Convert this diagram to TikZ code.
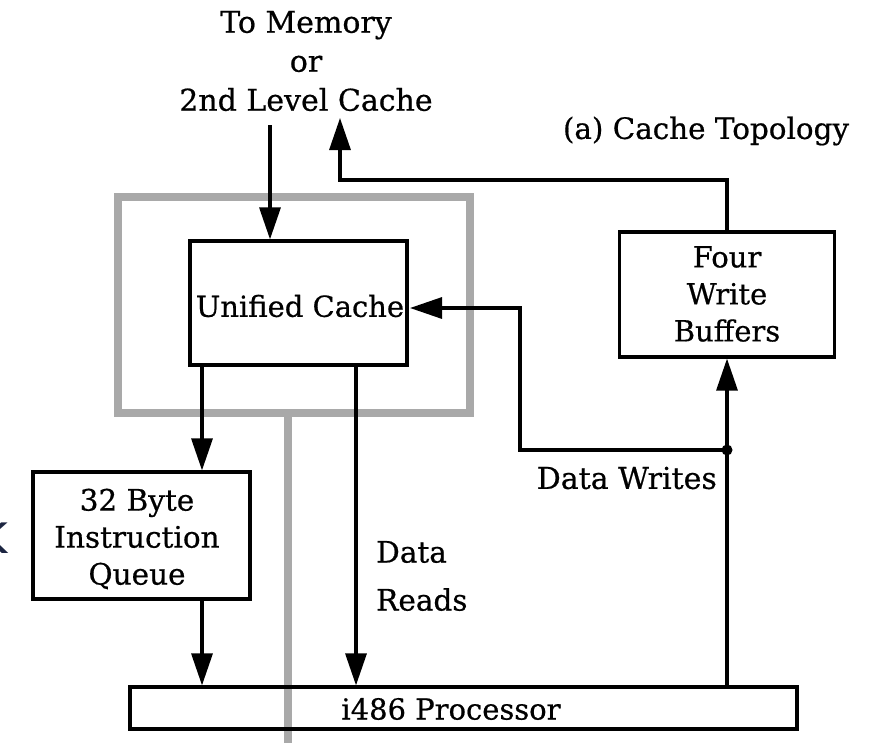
\documentclass[tikz,border=0pt]{standalone}
\usepackage{fontspec}
\setmainfont{DejaVu Serif}[FakeBold=0.6]
\newfontfamily\kfont{DejaVu Sans}
\usetikzlibrary{arrows.meta}
\definecolor{shell}{HTML}{A9A9A9}
\definecolor{navy}{HTML}{1C2541}
\tikzset{
  box/.style={draw=black, line width=3.2pt, rectangle, inner sep=0pt, align=center},
  lbl/.style={inner sep=0pt, align=center, font=\fontsize{29}{37}\selectfont},
  wire/.style={draw=black, line width=3.2pt},
  arr/.style={wire, -{Triangle[length=32pt,width=21pt]}},
  shellline/.style={draw=shell, line width=8pt}
}
\begin{document}
\begin{tikzpicture}[x=1pt,y=-1pt]
\useasboundingbox (0,0) rectangle (869,742);
% grey outline and stem
\draw[shellline] (118,197) rectangle (470,413);
\coordinate (stemtop) at (288,413);
\coordinate (stembot) at (288,750);
\draw[shellline] (stemtop) -- (stembot);

% boxes
\node[box, minimum width=217pt, minimum height=124pt] (uc) at (298.5,303) {};
\node[lbl] (uct) at (300,306) {Unified Cache};
\node[box, minimum width=215pt, minimum height=125pt] (wb) at (727,294.5) {};
\node[lbl] (wbt) at (727,294) {Four\\Write\\Buffers};
\node[box, minimum width=217pt, minimum height=127pt] (iq) at (141.5,535.5) {};
\node[lbl, font=\fontsize{29.5}{37}\selectfont] (iqt) at (137,539) {32 Byte\\Instruction\\Queue};
\node[box, minimum width=667pt, minimum height=42pt] (proc) at (463.5,708) {};
\node[lbl] (proct) at (451,709) {i486 Processor};

% labels
\node[lbl, font=\fontsize{30}{39}\selectfont] (mem) at (306,61) {To Memory\\or\\2nd Level Cache};
\node[lbl, font=\fontsize{29.4}{37}\selectfont] (topo) at (706,131) {(a) Cache Topology};
\node[lbl, anchor=east, font=\fontsize{30}{37}\selectfont] (dwt) at (717,478) {Data Writes};
\node[lbl, anchor=west, font=\fontsize{29.5}{48}\selectfont, align=left] (drt) at (376,576) {Data\\Reads};
\node[inner sep=0pt, anchor=base east, text=navy, font=\kfont\fontsize{56}{60}\selectfont] (kk) at (9,553) {k};

% connectors
\coordinate (memin) at (270,125);
\draw[arr] (memin) -- (memin |- uc.north);
\coordinate (memout) at (340,118);
\coordinate (bendA) at (340,180);
\draw[arr] (wb.north) |- (bendA) -- (memout);
\coordinate (dw) at (727,450);
\draw[arr] (dw |- proc.north) -- (wb.south);
\coordinate (bendB) at (520,308);
\coordinate (ucin) at (410,308);
\draw[arr] (dw) -| (bendB) -- (ucin);
\fill (dw) circle (5.5pt);
\coordinate (xq) at (202,0);
\draw[arr] (uc.south -| xq) -- (iq.north -| xq);
\draw[arr] (iq.south -| xq) -- (proc.north -| xq);
\coordinate (xr) at (356,0);
\draw[arr] (uc.south -| xr) -- (proc.north -| xr);
\end{tikzpicture}
\end{document}
